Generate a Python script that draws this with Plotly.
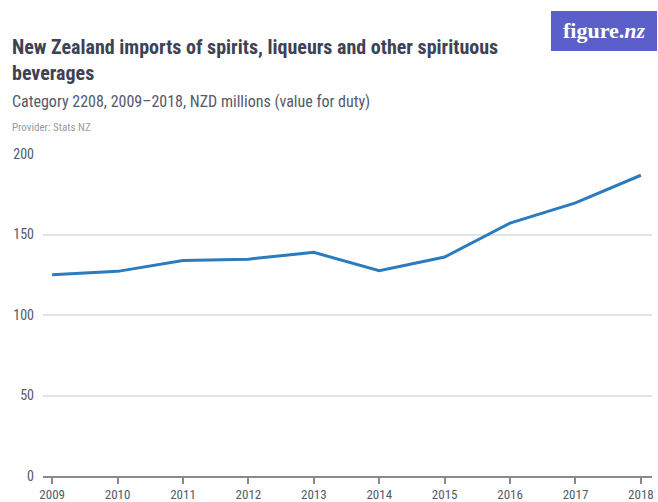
import plotly.graph_objects as go

# Annual imports of HS category 2208, NZD millions (value for duty)
years = [2009, 2010, 2011, 2012, 2013, 2014, 2015, 2016, 2017, 2018]
imports_nzd_m = [125.0, 127.1, 133.9, 134.7, 138.9, 127.5, 136.0, 157.1, 169.6, 186.8]

y_ticks = [0, 50, 100, 150, 200]

FONT = "Liberation Sans Narrow, Roboto Condensed, Roboto, sans-serif"
TEXT_DARK = "#3d4254"
TEXT_MID = "#55596a"

W, H = 658, 502
ML, MR, MT, MB = 43, 6, 154, 26
PW, PH = W - ML - MR, H - MT - MB


def px_x(x):
    return (x - ML) / PW


def px_y(y):
    # y measured from the top of the page
    return (H - y - MB) / PH


fig = go.Figure()
fig.add_trace(go.Scatter(
    x=years,
    y=imports_nzd_m,
    mode="lines",
    line=dict(color="#2c7bbd", width=3),
    hoverinfo="x+y",
))

fig.update_layout(
    width=W,
    height=H,
    margin=dict(l=ML, r=MR, t=MT, b=MB),
    paper_bgcolor="white",
    plot_bgcolor="white",
    showlegend=False,
    font=dict(family=FONT, color=TEXT_MID),
    xaxis=dict(
        range=[2008.86, 2018.17],
        tickmode="array",
        tickvals=years,
        ticktext=[str(y) for y in years],
        showgrid=False,
        zeroline=False,
        showline=True,
        linecolor="#8a8a8a",
        linewidth=1.5,
        ticks="outside",
        ticklen=6,
        tickwidth=1.5,
        tickcolor="#8a8a8a",
        tickfont=dict(size=13, color=TEXT_MID, family=FONT),
        automargin=False,
    ),
    yaxis=dict(
        range=[0, 200],
        tickmode="array",
        tickvals=y_ticks,
        ticktext=[str(v) for v in y_ticks],
        showgrid=True,
        gridcolor="#e3e3e3",
        gridwidth=1.5,
        zeroline=False,
        showline=False,
        ticks="",
        ticklabelstandoff=8,
        tickfont=dict(size=14, color=TEXT_MID, family=FONT),
        automargin=False,
    ),
    annotations=[
        dict(
            text="<b>New Zealand imports of spirits, liqueurs and other spirituous<br>beverages</b>",
            x=px_x(10), y=px_y(33), xref="paper", yref="paper", showarrow=False,
            xanchor="left", yanchor="top", align="left",
            font=dict(size=20, color=TEXT_DARK, family=FONT),
        ),
        dict(
            text="Category 2208, 2009–2018, NZD millions (value for duty)",
            x=px_x(10), y=px_y(90), xref="paper", yref="paper", showarrow=False,
            xanchor="left", yanchor="top", align="left",
            font=dict(size=16, color=TEXT_MID, family=FONT),
        ),
        dict(
            text="Provider: Stats NZ",
            x=px_x(10), y=px_y(119), xref="paper", yref="paper", showarrow=False,
            xanchor="left", yanchor="top", align="left",
            font=dict(size=11, color="#9a9a9a", family=FONT),
        ),
        dict(
            text="<b>figure.<i>nz</i></b>",
            x=px_x(604), y=px_y(31), xref="paper", yref="paper", showarrow=False,
            xanchor="center", yanchor="middle",
            font=dict(size=22, color="white", family="Liberation Serif, DejaVu Serif, serif"),
        ),
    ],
    shapes=[
        dict(
            type="rect", xref="paper", yref="paper",
            x0=px_x(551), x1=px_x(657), y0=px_y(51), y1=px_y(11),
            fillcolor="#5a5fc9", line=dict(width=0), layer="below",
        ),
    ],
)

fig.write_html("out.html")
